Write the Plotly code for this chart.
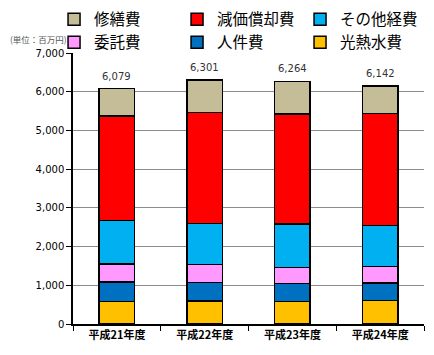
import plotly.graph_objects as go

categories = ["平成21年度", "平成22年度", "平成23年度", "平成24年度"]
series_names = ["光熱水費", "人件費", "委託費", "その他経費", "減価償却費", "修繕費"]
utilities = [585, 600, 575, 610]       # 光熱水費
personnel = [505, 475, 465, 455]       # 人件費
outsourcing = [466, 465, 420, 425]     # 委託費
other = [1119, 1060, 1120, 1050]       # その他経費
depreciation = [2695, 2860, 2840, 2895]  # 減価償却費
repair = [709, 841, 844, 707]          # 修繕費
totals = [6079, 6301, 6264, 6142]
y_ticks = [0, 1000, 2000, 3000, 4000, 5000, 6000, 7000]

series_values = [utilities, personnel, outsourcing, other, depreciation, repair]
colors = ["#FFC000", "#0070C0", "#FF99FF", "#00B0F0", "#FF0000", "#C4BD97"]

JP = "Noto Sans CJK JP"
fig = go.Figure()
for name, vals, col in zip(series_names, series_values, colors):
    fig.add_trace(go.Bar(
        x=categories, y=vals, name=name,
        marker=dict(color=col, line=dict(color="#000000", width=1.5)),
    ))

for cat, tot in zip(categories, totals):
    fig.add_annotation(x=cat, y=tot, text=f"{tot:,}", showarrow=False,
                       yanchor="bottom", yshift=5,
                       font=dict(family="DejaVu Sans", size=10, color="#333333"))

fig.add_annotation(xref="paper", yref="paper", x=-0.185, y=1.052, xanchor="left",
                   yanchor="middle", text="(単位：百万円)", showarrow=False,
                   font=dict(family=JP, size=8.5, color="#555555"))

fig.update_layout(
    width=426, height=347,
    margin=dict(l=65, r=10, t=45, b=31, autoexpand=False),
    barmode="stack", bargap=0.595,
    plot_bgcolor="white", paper_bgcolor="white",
    showlegend=True,
    legend=dict(orientation="h", traceorder="reversed",
                x=-0.054, y=1.186, xanchor="left", yanchor="top",
                bgcolor="rgba(0,0,0,0)",
                entrywidth=78, entrywidthmode="pixels",
                font=dict(family=JP, size=15.5, color="#000000"),
                itemwidth=30, tracegroupgap=0),
    xaxis=dict(showline=True, linecolor="#000000", linewidth=1.5,
               ticks="outside", tickson="boundaries", ticklen=5, tickcolor="#000000",
               tickfont=dict(family=JP, size=11, color="#000000", weight="bold")),
    yaxis=dict(range=[0, 7000], tickvals=y_ticks, tickformat=",",
               showline=True, linecolor="#000000", linewidth=1.5,
               ticks="outside", ticklen=5, tickcolor="#000000",
               showgrid=True, gridcolor="#8C8C8C", gridwidth=1,
               zeroline=False,
               tickfont=dict(family="DejaVu Sans", size=10, color="#000000")),
)

fig.write_html("out.html")
